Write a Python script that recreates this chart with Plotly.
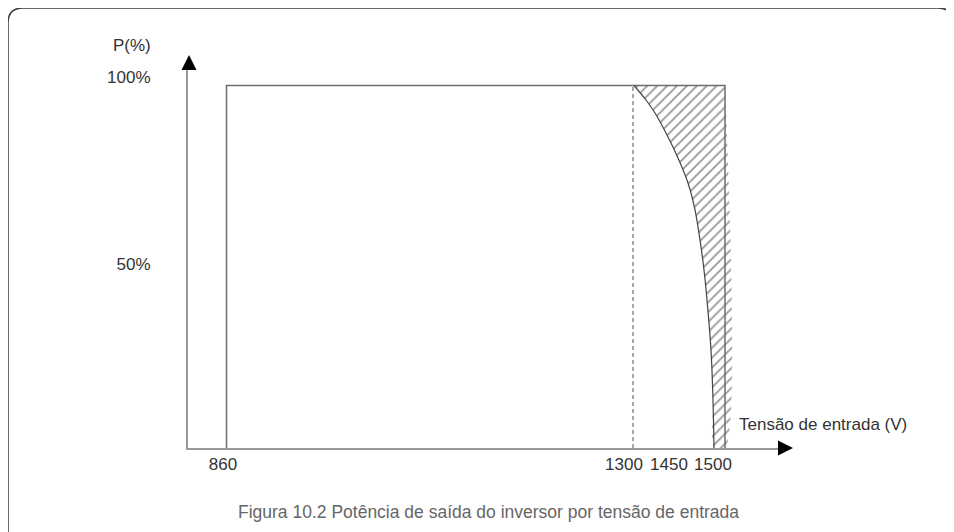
import plotly.graph_objects as go

# schematic axis: x in drawing units from the origin, y in percent of rated power
voltage_labels = ["860", "1300", "1450", "1500"]
voltage_label_pos = [35, 436, 481, 525]
power_labels = ["100%", "50%"]
power_label_pos = [102.3, 50.8]

window_x = [38.5, 38.5, 537, 537]
window_p = [0, 100, 100, 0]
derate_x = [445, 445]
derate_p = [0, 100]

curve_x = [446, 458, 467, 480, 490, 500, 507, 512, 516, 519, 523, 525, 526]
curve_p = [100, 96.0, 92.4, 85.8, 80.0, 73.1, 65.7, 57.4, 49.1, 40.8, 27.0, 13.2, 0]

# the page has an 8px body margin, so the figure is drawn 8px in from the window corner
OFF = 8
W, H = 954, 532
L, R, T, B = 188 - OFF, 174 + OFF, 70 - OFF, 84 + OFF
PW, PH = W - L - R, H - T - B


def px(x):
    return (x - OFF - L) / PW


def py(y):
    return (H - B - (y - OFF)) / PH


font = "Liberation Sans, Arial, sans-serif"

fig = go.Figure()

# hatched area between derating curve and 1500 V
fig.add_trace(go.Scatter(
    x=curve_x + [window_x[-1], window_x[-1]],
    y=curve_p + [0, 100],
    mode="lines",
    fill="toself",
    fillcolor="white",
    fillpattern=dict(shape="/", size=7, solidity=0.24, fgcolor="#2a2a2a", bgcolor="white"),
    line=dict(color="rgba(0,0,0,0)", width=0, shape="spline", smoothing=0.8),
    hoverinfo="skip",
))

fig.add_trace(go.Scatter(
    x=derate_x, y=derate_p, mode="lines",
    line=dict(color="#8c8c8c", width=1.5, dash="4px,3px"),
    hoverinfo="skip",
))

fig.add_trace(go.Scatter(
    x=window_x, y=window_p, mode="lines",
    line=dict(color="#6e6e6e", width=1.5),
    hoverinfo="skip",
))

fig.add_trace(go.Scatter(
    x=curve_x, y=curve_p, mode="lines",
    line=dict(color="#444", width=1.2, shape="spline", smoothing=0.8),
    hoverinfo="skip",
))

shapes = [
    # outer rounded frame
    dict(type="path", xref="paper", yref="paper",
         path=(f"M {px(8)},{py(545)} L {px(8)},{py(23)} "
               f"Q {px(8)},{py(8)} {px(23)},{py(8)} L {px(938)},{py(8)} "
               f"Q {px(953)},{py(8)} {px(953)},{py(23)} L {px(953)},{py(545)}"),
         line=dict(color="#3a3a3a", width=1.5)),
    # arrow heads
    dict(type="path", xref="paper", yref="paper",
         path=f"M {px(181.5)},{py(70)} L {px(196.5)},{py(70)} L {px(189)},{py(55)} Z",
         fillcolor="black", line=dict(color="black", width=0)),
    dict(type="path", xref="paper", yref="paper",
         path=f"M {px(778)},{py(440.5)} L {px(778)},{py(455.5)} L {px(793)},{py(448)} Z",
         fillcolor="black", line=dict(color="black", width=0)),
]

annotations = [
    dict(text="P(%)", xref="paper", yref="paper", x=px(132), y=py(45),
         xanchor="center", yanchor="middle",
         showarrow=False, font=dict(size=17, color="#333", family=font)),
    dict(text="Tensão de entrada (V)", xref="paper", yref="paper", x=px(737), y=py(424),
         xanchor="left", yanchor="middle",
         showarrow=False, font=dict(size=17, color="#333", family=font)),
    dict(text="Figura 10.2 Potência de saída do inversor por tensão de entrada",
         xref="paper", yref="paper", x=px(488), y=py(512),
         xanchor="center", yanchor="middle",
         showarrow=False, font=dict(size=17.5, color="#666", family=font)),
]

fig.update_layout(
    width=W, height=H,
    margin=dict(l=L, r=R, t=T, b=B),
    paper_bgcolor="white", plot_bgcolor="white",
    showlegend=False,
    shapes=shapes,
    annotations=annotations,
    font=dict(family=font, size=17, color="#333"),
)

fig.update_xaxes(
    range=[0, PW], showgrid=False, zeroline=False,
    showline=True, linecolor="#999", linewidth=2,
    tickmode="array", tickvals=voltage_label_pos, ticktext=voltage_labels,
    ticks="", tickfont=dict(size=17, color="#333"),
)

fig.update_yaxes(
    range=[0, PH / 3.625], showgrid=False, zeroline=False,
    showline=True, linecolor="#999", linewidth=2,
    tickmode="array", tickvals=power_label_pos, ticktext=power_labels,
    ticks="", ticklabelstandoff=32, tickfont=dict(size=17, color="#333"),
)

fig.write_html("out.html")
